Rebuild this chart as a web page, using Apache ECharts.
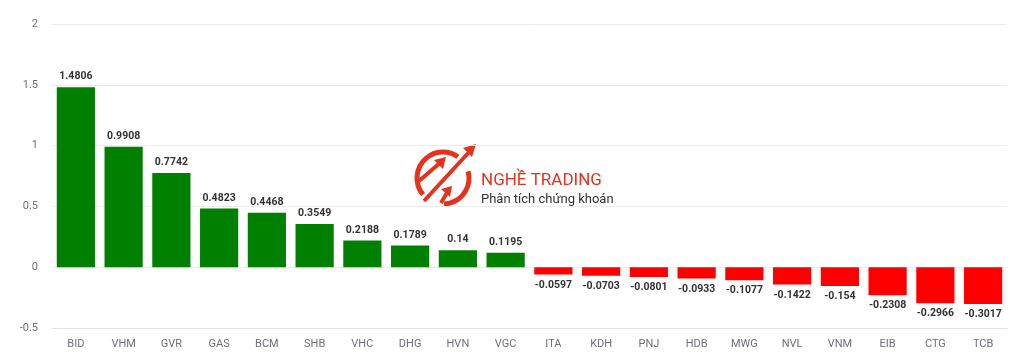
<!DOCTYPE html>
<html><head><meta charset="utf-8">
<script src="https://cdn.jsdelivr.net/npm/echarts@6/dist/echarts.min.js"></script>
<style>html,body{margin:0;padding:0;background:#fff}#c{width:1024px;height:353px}</style>
</head><body><div id="c"></div>
<script>
const categories = ["BID","VHM","GVR","GAS","BCM","SHB","VHC","DHG","HVN","VGC","ITA","KDH","PNJ","HDB","MWG","NVL","VNM","EIB","CTG","TCB"];
const values = [1.4806,0.9908,0.7742,0.4823,0.4468,0.3549,0.2188,0.1789,0.14,0.1195,-0.0597,-0.0703,-0.0801,-0.0933,-0.1077,-0.1422,-0.154,-0.2308,-0.2966,-0.3017];
const yTicks = {min:-0.5, max:2, interval:0.5};

const chart = echarts.init(document.getElementById('c'));
const red = '#e3321e';
const D = Math.PI/180;
chart.setOption({
  animation:false,
  grid:{left:52,right:17,top:24,bottom:25},
  xAxis:{type:'category',data:categories,
    axisLine:{onZero:false,lineStyle:{color:'#dfe3ec'}},
    axisTick:{show:false},
    axisLabel:{color:'#6e7079',fontSize:11,fontFamily:'Roboto',margin:11}},
  yAxis:{type:'value',min:yTicks.min,max:yTicks.max,interval:yTicks.interval,
    axisLabel:{color:'#6e7079',fontSize:11,fontFamily:'Roboto',margin:14},
    splitLine:{lineStyle:{color:'#e8ebf0'}}},
  series:[{type:'bar',barCategoryGap:'20%',
    data:values.map(v=>({value:v,itemStyle:{color:v>=0?'#008000':'#ff0000'},
      label:{position:v>=0?'top':'bottom'}})),
    label:{show:true,color:'#333',fontSize:10.5,fontWeight:'bold',fontFamily:'Roboto',distance:5}}],
  graphic:[
    {type:'arc',shape:{cx:443,cy:178,r:26,startAngle:140*D,endAngle:305*D},style:{stroke:red,lineWidth:5,fill:null}},
    {type:'arc',shape:{cx:443,cy:178,r:26,startAngle:-15*D,endAngle:88*D},style:{stroke:red,lineWidth:5,fill:null}},
    {type:'line',shape:{x1:424,y1:201,x2:471,y2:150},style:{stroke:red,lineWidth:4}},
    {type:'polygon',shape:{points:[[476,144],[463,148],[472,157]]},style:{fill:red}},
    {type:'line',shape:{x1:419,y1:181,x2:441,y2:162},style:{stroke:red,lineWidth:4}},
    {type:'polygon',shape:{points:[[446,157],[434,160],[443,169]]},style:{fill:red}},
    {type:'line',shape:{x1:441,y1:203,x2:448,y2:191},style:{stroke:red,lineWidth:4}},
    {type:'polygon',shape:{points:[[452,186],[441,189],[450,197]]},style:{fill:red}},
    {type:'text',left:481,top:172,style:{text:'NGHỀ TRADING',fill:red,font:'17px Roboto'}},
    {type:'text',left:481,top:193,style:{text:'Phân tích chứng khoán',fill:'#333',font:'13px Roboto'}}
  ]
});
</script></body></html>
